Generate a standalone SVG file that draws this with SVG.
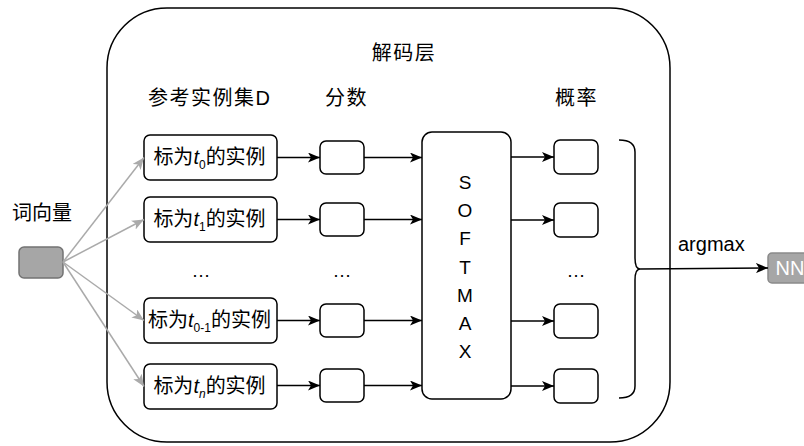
<svg xmlns="http://www.w3.org/2000/svg" width="804" height="446" viewBox="0 0 804 446">
<style>
text{font-family:"Liberation Sans","Noto Sans CJK SC",sans-serif;fill:#000}
.cjk{font-size:20px}
.hd{letter-spacing:1.5px}
.box{fill:#fff;stroke:#000;stroke-width:1.5}
.gray{fill:#a6a6a6;stroke:#737373;stroke-width:1.5}
.ln{stroke:#000;stroke-width:1.5;fill:none}
.gl{stroke:#aaaaaa;stroke-width:1.5;fill:none}
.sm{font-size:19px;text-anchor:middle}
.it{font-style:italic}
.sub{font-size:12px}
</style>
<defs>
<marker id="ab" viewBox="0 0 12 10" refX="12" refY="5" markerWidth="12" markerHeight="10" markerUnits="userSpaceOnUse" orient="auto">
<path d="M0,0 L12,5 L0,10 L3,5 Z" fill="#000"/>
</marker>
<marker id="ag" viewBox="0 0 12 10" refX="12" refY="5" markerWidth="12" markerHeight="10" markerUnits="userSpaceOnUse" orient="auto">
<path d="M0,0 L12,5 L0,10 L3,5 Z" fill="#aaaaaa"/>
</marker>
</defs>

<g id="decoder">
<rect x="107" y="8" width="563" height="434" rx="60" ry="60" fill="#fff" stroke="#000" stroke-width="1.5"/>
<text class="cjk hd" x="404" y="60" text-anchor="middle">解码层</text>
<text class="cjk hd" x="148" y="105">参考实例集D</text>
<text class="cjk hd" x="325" y="105">分数</text>
<text class="cjk hd" x="555" y="105">概率</text>
</g>

<g id="wordvec">
<text class="cjk" x="12" y="220">词向量</text>
<rect class="gray" x="19" y="247" width="44" height="31" rx="5"/>
</g>

<g id="ex0">
<rect class="box" x="144" y="135" width="133" height="45" rx="6"/>
<text class="cjk" x="209.5" y="164" text-anchor="middle">标为<tspan class="it">t</tspan><tspan class="sub" dy="5">0</tspan><tspan dy="-5">的实例</tspan></text>
</g>
<g id="ex1">
<rect class="box" x="144" y="197" width="133" height="45" rx="6"/>
<text class="cjk" x="209.5" y="226" text-anchor="middle">标为<tspan class="it">t</tspan><tspan class="sub" dy="5">1</tspan><tspan dy="-5">的实例</tspan></text>
</g>
<g id="ex2">
<rect class="box" x="144" y="298" width="133" height="45" rx="6"/>
<text class="cjk" x="209.5" y="327" text-anchor="middle">标为<tspan class="it">t</tspan><tspan class="sub" dy="5">0-1</tspan><tspan dy="-5">的实例</tspan></text>
</g>
<g id="ex3">
<rect class="box" x="144" y="364" width="133" height="45" rx="6"/>
<text class="cjk" x="209.5" y="393" text-anchor="middle">标为<tspan class="it">t</tspan><tspan class="sub it" dy="5">n</tspan><tspan dy="-5">的实例</tspan></text>
</g>

<g id="dots">
<text x="201" y="277" class="sm">…</text>
<text x="342" y="277" class="sm">…</text>
<text x="576" y="277" class="sm">…</text>
</g>

<g id="score0"><rect class="box" x="320" y="141" width="44" height="33" rx="6"/></g>
<g id="score1"><rect class="box" x="320" y="203" width="44" height="33" rx="6"/></g>
<g id="score2"><rect class="box" x="320" y="304" width="44" height="33" rx="6"/></g>
<g id="score3"><rect class="box" x="320" y="369" width="44" height="33" rx="6"/></g>

<g id="softmax">
<rect class="box" x="422" y="132" width="89" height="267" rx="10"/>
<text class="sm" x="465" y="189">S</text>
<text class="sm" x="465" y="217">O</text>
<text class="sm" x="465" y="245">F</text>
<text class="sm" x="465" y="274">T</text>
<text class="sm" x="465" y="302">M</text>
<text class="sm" x="465" y="330">A</text>
<text class="sm" x="465" y="358">X</text>
</g>

<g id="prob0"><rect class="box" x="554" y="140" width="44" height="34" rx="6"/></g>
<g id="prob1"><rect class="box" x="554" y="203" width="44" height="34" rx="6"/></g>
<g id="prob2"><rect class="box" x="554" y="304" width="44" height="34" rx="6"/></g>
<g id="prob3"><rect class="box" x="554" y="369" width="44" height="34" rx="6"/></g>

<g id="nn">
<rect x="768" y="253" width="44" height="30" rx="4" stroke="#8a8a8a" stroke-width="1.5" fill="#a6a6a6"/>
<text x="790" y="275" class="sm" style="fill:#fff;font-size:20px">NN</text>
</g>

<g id="connectors">
<path class="gl" d="M63,262 L144,157.5" marker-end="url(#ag)"/>
<path class="gl" d="M63,262 L144,219.5" marker-end="url(#ag)"/>
<path class="gl" d="M63,262 L144,320.5" marker-end="url(#ag)"/>
<path class="gl" d="M63,262 L144,386.5" marker-end="url(#ag)"/>

<path class="ln" d="M277,157.5 L320,157.5" marker-end="url(#ab)"/>
<path class="ln" d="M277,219.5 L320,219.5" marker-end="url(#ab)"/>
<path class="ln" d="M277,320.5 L320,320.5" marker-end="url(#ab)"/>
<path class="ln" d="M277,385.5 L320,385.5" marker-end="url(#ab)"/>

<path class="ln" d="M364,157.5 L422,157.5" marker-end="url(#ab)"/>
<path class="ln" d="M364,219.5 L422,219.5" marker-end="url(#ab)"/>
<path class="ln" d="M364,320.5 L422,320.5" marker-end="url(#ab)"/>
<path class="ln" d="M364,385.5 L422,385.5" marker-end="url(#ab)"/>

<path class="ln" d="M511,157 L554,157" marker-end="url(#ab)"/>
<path class="ln" d="M511,220 L554,220" marker-end="url(#ab)"/>
<path class="ln" d="M511,321 L554,321" marker-end="url(#ab)"/>
<path class="ln" d="M511,386 L554,386" marker-end="url(#ab)"/>

<path class="ln" d="M619,140 Q635,140 635,152 L635,258 Q635,269 640,269 Q635,269 635,280 L635,386 Q635,398 619,398"/>
<path class="ln" d="M640,269 L768,268" marker-end="url(#ab)"/>
<text x="678" y="251" style="font-size:20px">argmax</text>
</g>
</svg>
